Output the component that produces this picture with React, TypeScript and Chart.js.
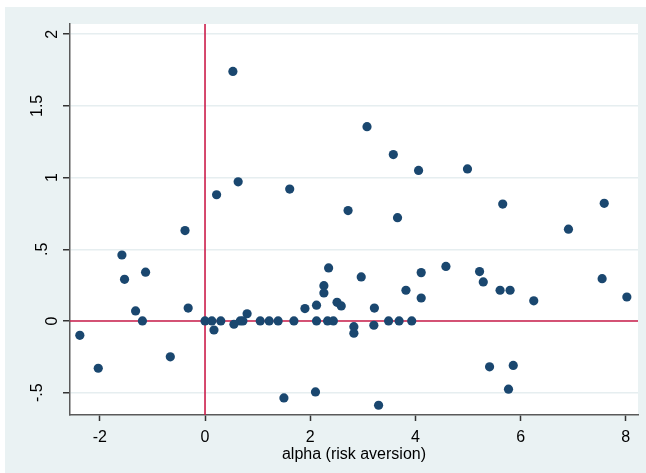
import React, { useEffect, useRef } from 'react';
import { Chart, registerables } from 'chart.js';

Chart.register(...registerables);

// alpha (risk aversion) values, x
const alphaValues = [
  0.53, 0.22, 0.63, 1.61, 2.72, -0.38,
  3.08, 3.58, 4.06, 4.99, 3.66, 5.66, 6.91, 7.59,
  -1.58, -1.53, -1.13, -1.32, -1.19, -0.32, -2.38, -2.03, -0.66,
  0.0, 0.13, 0.3, 0.17, 0.55, 0.67, 0.72, 0.8, 1.05, 1.22, 1.39, 1.69,
  1.9, 2.12, 2.12, 2.26, 2.26, 2.35, 2.33, 2.44, 2.51, 2.59, 2.83, 2.83, 1.5, 2.1,
  2.97, 3.22, 3.21, 3.49, 3.69, 3.93, 3.82, 4.11, 4.11, 4.58, 5.22, 5.29, 5.61, 5.8,
  6.25, 7.55, 8.02, 5.41, 5.86, 5.77, 3.3,
];

// outcome values, y
const outcomeValues = [
  1.74, 0.88, 0.97, 0.92, 0.77, 0.63,
  1.355, 1.16, 1.05, 1.06, 0.72, 0.815, 0.64, 0.82,
  0.46, 0.29, 0.34, 0.07, 0.0, 0.09, -0.1, -0.33, -0.25,
  0.0, 0.0, 0.0, -0.063, -0.023, 0.0, 0.0, 0.05, 0.0, 0.0, 0.0, 0.0,
  0.086, 0.11, 0.0, 0.246, 0.195, 0.37, 0.0, 0.0, 0.13, 0.105, -0.04, -0.086, -0.537, -0.495,
  0.307, 0.09, -0.03, 0.0, 0.0, 0.0, 0.214, 0.337, 0.16, 0.38, 0.344, 0.272, 0.214, 0.214,
  0.14, 0.295, 0.167, -0.32, -0.31, -0.476, -0.588,
];

const xTicks = [-2, 0, 2, 4, 6, 8];
const xTickLabels = ['-2', '0', '2', '4', '6', '8'];
const yTicks = [-0.5, 0, 0.5, 1, 1.5, 2];
const yTickLabels = ['-.5', '0', '.5', '1', '1.5', '2'];
const xTitle = 'alpha (risk aversion)';
const xRange = [-2.567, 8.232];
const yRange = [-0.656, 2.071];
const refX = 0;
const refY = 0;

const FONT = '"Liberation Sans", Arial, sans-serif';
const GRAPH_BG = '#EAF2F3';
const MARKER = '#1A476F';
const REF_RED = '#CC1E4B';

export default function App() {
  const canvasRef = useRef<HTMLCanvasElement | null>(null);

  useEffect(() => {
    document.body.style.margin = '0';
    const canvas = canvasRef.current;
    if (!canvas) return;

    const stataPlugin = {
      id: 'stataLook',
      beforeDraw(chart: any) {
        const { ctx, chartArea, width, height } = chart;
        ctx.save();
        ctx.fillStyle = '#ffffff';
        ctx.fillRect(0, 0, width, height);
        ctx.fillStyle = GRAPH_BG;
        ctx.fillRect(5, 7, width - 5, height - 7);
        ctx.fillStyle = '#ffffff';
        ctx.fillRect(chartArea.left, chartArea.top, chartArea.right - chartArea.left, chartArea.bottom - chartArea.top);
        ctx.restore();
      },
      beforeDatasetsDraw(chart: any) {
        const { ctx, chartArea, scales } = chart;
        const px = scales.x.getPixelForValue(refX);
        const py = scales.y.getPixelForValue(refY);
        ctx.save();
        ctx.strokeStyle = REF_RED;
        ctx.lineWidth = 1.6;
        ctx.beginPath();
        ctx.moveTo(px, chartArea.top);
        ctx.lineTo(px, chartArea.bottom);
        ctx.moveTo(chartArea.left, py);
        ctx.lineTo(chartArea.right, py);
        ctx.stroke();
        ctx.restore();
      },
      afterDraw(chart: any) {
        const { ctx, scales } = chart;
        ctx.save();
        ctx.font = '16px ' + FONT;
        ctx.fillStyle = '#000000';
        ctx.textAlign = 'center';
        ctx.textBaseline = 'middle';
        const baseW = ctx.measureText('2').width;
        yTicks.forEach((v, i) => {
          const label = yTickLabels[i];
          const w = ctx.measureText(label).width;
          const shift = Math.min(15.5, 2.4 * (w - baseW));
          const cx = 52 - shift;
          const cy = scales.y.getPixelForValue(v);
          ctx.save();
          ctx.translate(cx, cy);
          ctx.rotate(-Math.PI / 2);
          ctx.fillText(label, 0, 1);
          ctx.restore();
        });
        ctx.restore();
      },
    };

    const chart = new Chart(canvas, {
      type: 'scatter',
      data: {
        datasets: [
          {
            data: alphaValues.map((x, i) => ({ x, y: outcomeValues[i] })),
            backgroundColor: MARKER,
            borderColor: MARKER,
            borderWidth: 0,
            pointRadius: 4.6,
            pointHoverRadius: 4.6,
          },
        ],
      },
      options: {
        responsive: false,
        animation: false,
        devicePixelRatio: 1,
        layout: { padding: { top: 24, right: 8, left: 0, bottom: 0 } },
        plugins: {
          legend: { display: false },
          tooltip: { enabled: false },
        },
        scales: {
          x: {
            type: 'linear',
            min: xRange[0],
            max: xRange[1],
            afterBuildTicks(scale: any) {
              scale.ticks = xTicks.map((v) => ({ value: v }));
            },
            afterFit(scale: any) {
              scale.height = 58;
            },
            grid: {
              drawOnChartArea: false,
              tickLength: 6,
              tickColor: '#333333',
              tickWidth: 1.5,
            },
            border: { color: '#5a5a5a', width: 1.5 },
            ticks: {
              color: '#000000',
              font: { family: FONT, size: 16 },
              padding: 7,
              maxRotation: 0,
              callback: (v: any) => {
                const idx = xTicks.indexOf(Number(v));
                return idx >= 0 ? xTickLabels[idx] : '';
              },
            },
            title: {
              display: true,
              text: xTitle,
              color: '#000000',
              font: { family: FONT, size: 16 },
              padding: { top: 0, bottom: 9 },
            },
          },
          y: {
            type: 'linear',
            min: yRange[0],
            max: yRange[1],
            afterBuildTicks(scale: any) {
              scale.ticks = yTicks.map((v) => ({ value: v }));
            },
            afterFit(scale: any) {
              scale.width = 70;
            },
            grid: {
              color: '#E6EEF0',
              lineWidth: 1.5,
              tickLength: 7,
              tickColor: '#333333',
              tickWidth: 1.5,
            },
            border: { color: '#5a5a5a', width: 1.5 },
            ticks: { display: false },
          },
        },
      },
      plugins: [stataPlugin],
    } as any);

    return () => {
      chart.destroy();
    };
  }, []);

  return (
    <div style={{ width: 646, height: 473 }}>
      <canvas ref={canvasRef} width={646} height={473} style={{ display: 'block' }} />
    </div>
  );
}
